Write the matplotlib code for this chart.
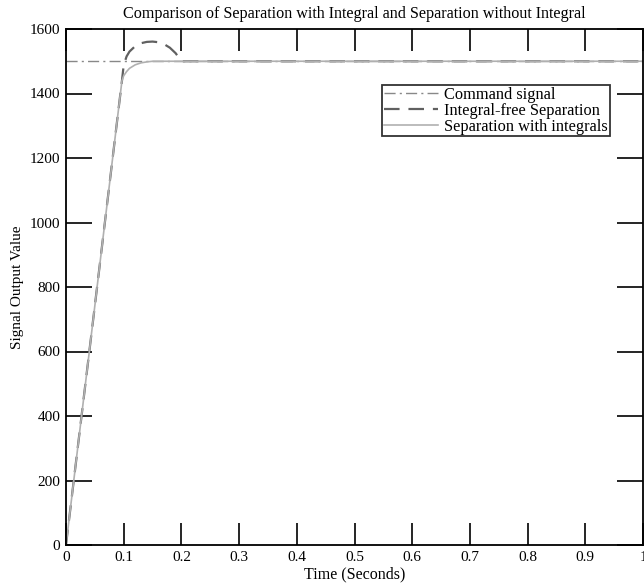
import matplotlib
matplotlib.use("Agg")
import matplotlib.pyplot as plt

plt.rcParams['font.family'] = ['Liberation Serif', 'DejaVu Serif']

# Command signal
cmd_t = [0.0, 1.0]
cmd_y = [1500, 1500]

# Integral-free separation
free_t = [0.0, 0.097, 0.100, 0.105, 0.110, 0.120, 0.130, 0.140, 0.150, 0.160, 0.170, 0.180, 0.190, 0.196, 0.200, 1.0]
free_y = [0, 1440, 1488, 1515, 1530, 1547, 1556, 1560, 1561, 1559, 1553, 1542, 1525, 1510, 1500, 1500]

# Separation with integrals
int_t = [0.0, 0.097, 0.100, 0.105, 0.110, 0.120, 0.130, 0.140, 0.150, 0.160, 1.0]
int_y = [0, 1440, 1455, 1468, 1478, 1489, 1495, 1498, 1500, 1500, 1500]

xticks = [0, 0.1, 0.2, 0.3, 0.4, 0.5, 0.6, 0.7, 0.8, 0.9, 1]
xticklabels = ['0', '0.1', '0.2', '0.3', '0.4', '0.5', '0.6', '0.7', '0.8', '0.9', '1']
yticks = [0, 200, 400, 600, 800, 1000, 1200, 1400, 1600]

fig = plt.figure(figsize=(6.44, 5.88), dpi=100)
ax = fig.add_axes([66/644, 1 - 545/588, (643 - 66)/644, (545 - 29)/588])

ax.plot(cmd_t, cmd_y, color='#888888', lw=1.0, linestyle=(0, (8, 3, 1.5, 3)), label='Command signal')
ax.plot(free_t, free_y, color='#606060', lw=1.6, linestyle=(0, (7, 4)), label='Integral-free Separation')
ax.plot(int_t, int_y, color='#b0b0b0', lw=1.2, label='Separation with integrals')

ax.set_xlim(0, 1)
ax.set_ylim(0, 1600)
ax.set_xticks(xticks)
ax.set_xticklabels(xticklabels)
ax.set_yticks(yticks)
ax.tick_params(direction='in', width=1.2, top=True, right=True, labelsize=11, colors='black', pad=4)
ax.tick_params(axis='x', length=16)
ax.tick_params(axis='y', length=19)
for s in ax.spines.values():
    s.set_linewidth(1.3)

ax.set_title('Comparison of Separation with Integral and Separation without Integral', fontsize=11.6, pad=8)
ax.set_xlabel('Time (Seconds)', fontsize=11.5, labelpad=2)
ax.set_ylabel('Signal Output Value', fontsize=11, labelpad=4)

leg = ax.legend(loc='upper left', bbox_to_anchor=((382 - 66)/577, (545 - 85)/516), fontsize=11.8,
                frameon=True, fancybox=False, edgecolor='black', borderpad=0.1, handlelength=3.3,
                handletextpad=0.4, labelspacing=0.0, borderaxespad=0)
leg.get_frame().set_linewidth(1.3)

fig.savefig('out.png', dpi=100)
